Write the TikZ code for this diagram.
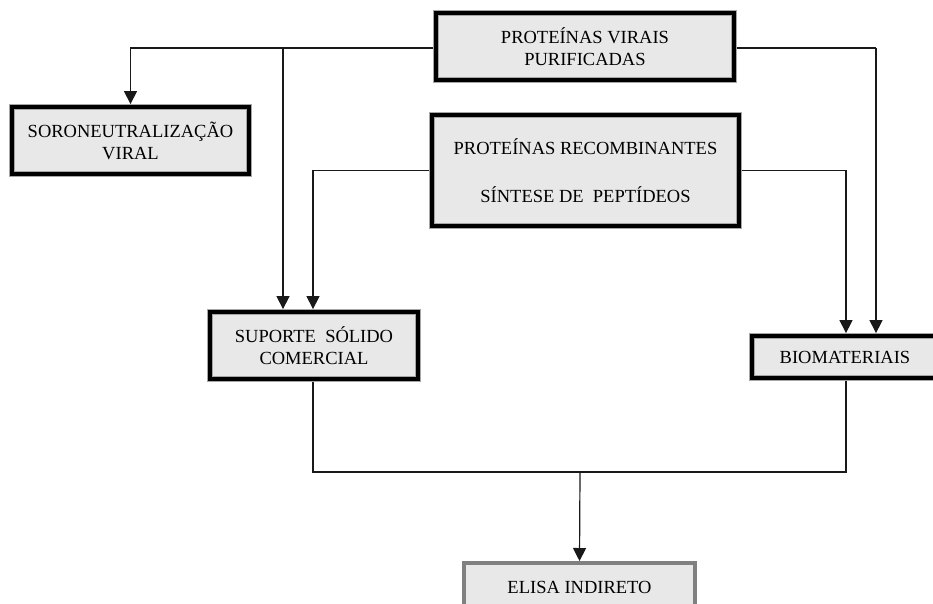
\documentclass[tikz,border=0pt]{standalone}
\usepackage{fontspec}
\setmainfont{Liberation Serif}
\usetikzlibrary{arrows.meta}
\definecolor{boxfill}{HTML}{E8E8E8}
\definecolor{edgegray}{HTML}{808080}
\begin{document}
\begin{tikzpicture}[x=1pt,y=-1pt,
  box/.style={draw=gray!70, line width=0.6pt, double=black, double distance=4.6pt,
    fill=boxfill, inner sep=0pt, outer sep=2.9pt, align=center,
    font=\fontsize{18.5}{22}\selectfont},
  greybox/.style={draw=edgegray, line width=4pt, fill=boxfill, inner sep=0pt,
    outer sep=2pt, align=center, font=\fontsize{18.5}{22}\selectfont},
  link/.style={line width=1.2pt, draw=black!90},
  conn/.style={link, -{Triangle[length=13pt,width=13pt]}}]
\useasboundingbox (0,0) rectangle (933,603);
\clip (0,0) rectangle (933,603);

\node[box, minimum width=298pt, minimum height=67pt] (b1) at (585,46.5) {PROTEÍNAS VIRAIS\\PURIFICADAS};
\node[box, minimum width=237pt, minimum height=67pt] (b2) at (130.5,140.5) {SORONEUTRALIZAÇÃO\\VIRAL};
\node[box, minimum width=307pt, minimum height=111pt] (b3) at (585.5,170.5) {PROTEÍNAS RECOMBINANTES\\[26pt]SÍNTESE DE~~PEPTÍDEOS};
\node[box, minimum width=208pt, minimum height=67pt] (b4) at (314,345.5) {SUPORTE~~SÓLIDO\\COMERCIAL};
\node[box, minimum width=186pt, minimum height=42pt] (b5) at (845,357) {BIOMATERIAIS};
\node[greybox, minimum width=231pt, minimum height=48pt] (b6) at (579.5,587) {ELISA INDIRETO};

\coordinate (j1) at (283,48);
\coordinate (j2) at (876,48);
\coordinate (j4) at (846,472);
\coordinate (j5) at (580,472);

\draw[conn] ([yshift=-1.5pt]b1.west) -| (b2.north);
\draw[conn] (j1) -- (j1 |- b4.north);
\draw[conn] (b3.west) -| ([xshift=-1pt]b4.north);
\draw[link] ([yshift=-1.5pt]b1.east) -- (j2);
\draw[conn] (j2) -- (j2 |- b5.north);
\draw[conn] (b3.east) -| ([xshift=1pt]b5.north);
\draw[link] ([xshift=-1pt]b4.south) |- (j4) -- (j4 |- b5.south);
\draw[conn] (j5) -- (b6.north);
\end{tikzpicture}
\end{document}
